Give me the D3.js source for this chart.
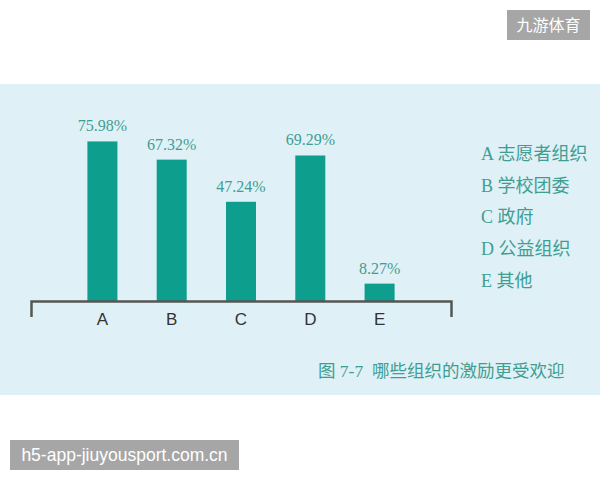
<!DOCTYPE html>
<html>
<head>
<meta charset="utf-8">
<script src="https://cdn.jsdelivr.net/npm/d3@7"></script>
<style>
  html, body { margin: 0; padding: 0; background: #ffffff; }
  svg { display: block; }
</style>
</head>
<body>
<svg id="chart" width="600" height="480"></svg>
<script>
// ---- data ----
const categories = ["A", "B", "C", "D", "E"];
const values = [75.98, 67.32, 47.24, 69.29, 8.27];
const valueLabels = ["75.98%", "67.32%", "47.24%", "69.29%", "8.27%"];
const legendLabels = ["A 志愿者组织", "B 学校团委", "C 政府", "D 公益组织", "E 其他"];
const caption = "图 7-7  哪些组织的激励更受欢迎";
const watermarkTop = "九游体育";
const watermarkBottom = "h5-app-jiuyousport.com.cn";

// ---- styles ----
const panelColor = "#dff0f7";
const barColor = "#0e9e8e";
const tealText = "#3f9e92";
const axisColor = "#555555";
const wmColor = "#a6a6a6";

const svg = d3.select("#chart");

// background panel
svg.append("rect")
  .attr("x", 0).attr("y", 84)
  .attr("width", 600).attr("height", 311)
  .attr("fill", panelColor);

// scales
const baseY = 301;
const x = d3.scaleBand()
  .domain(categories)
  .range([31, 451])
  .paddingInner(0.567)
  .paddingOuter(0.814);

const y = d3.scaleLinear()
  .domain([0, 100])
  .range([baseY, baseY - 210]);

// bars
svg.append("g").selectAll("rect")
  .data(values)
  .join("rect")
  .attr("x", (d, i) => x(categories[i]))
  .attr("y", d => y(d))
  .attr("width", x.bandwidth())
  .attr("height", d => y(0) - y(d))
  .attr("fill", barColor);

// value labels
svg.append("g").selectAll("text")
  .data(values)
  .join("text")
  .attr("x", (d, i) => x(categories[i]) + x.bandwidth() / 2)
  .attr("y", d => y(d) - 10)
  .attr("text-anchor", "middle")
  .attr("font-family", "'Liberation Serif', 'DejaVu Serif', serif")
  .attr("font-size", 16)
  .attr("fill", tealText)
  .text((d, i) => valueLabels[i]);

// axis
const axis = d3.axisBottom(x)
  .tickSizeInner(0)
  .tickSizeOuter(16)
  .tickPadding(12);

const gAxis = svg.append("g")
  .attr("transform", `translate(0,${baseY})`)
  .call(axis);
gAxis.select(".domain")
  .attr("stroke", axisColor)
  .attr("stroke-width", 2.5)
  .attr("fill", "none");
gAxis.selectAll(".tick text")
  .attr("font-family", "'Liberation Sans', Arial, sans-serif")
  .attr("font-size", 17)
  .attr("fill", "#333333");

// legend
svg.append("g").selectAll("text")
  .data(legendLabels)
  .join("text")
  .attr("x", 481)
  .attr("y", (d, i) => 160 + i * 31.7)
  .attr("font-family", "'Liberation Serif', 'Noto Sans CJK SC', serif")
  .attr("font-size", 18)
  .attr("fill", tealText)
  .text(d => d);

// caption
svg.append("text")
  .attr("x", 318)
  .attr("y", 377)
  .attr("font-family", "'Liberation Serif', 'Noto Sans CJK SC', serif")
  .attr("font-size", 17.5)
  .attr("fill", tealText)
  .attr("xml:space", "preserve")
  .style("white-space", "pre")
  .text(caption);

// watermarks
svg.append("rect")
  .attr("x", 507).attr("y", 10)
  .attr("width", 83).attr("height", 30)
  .attr("fill", wmColor);
svg.append("text")
  .attr("x", 548.5).attr("y", 31)
  .attr("text-anchor", "middle")
  .attr("font-family", "'Noto Sans CJK SC', sans-serif")
  .attr("font-size", 16)
  .attr("fill", "#ffffff")
  .text(watermarkTop);

svg.append("rect")
  .attr("x", 10).attr("y", 440)
  .attr("width", 229).attr("height", 30)
  .attr("fill", wmColor);
svg.append("text")
  .attr("x", 124.5).attr("y", 461)
  .attr("text-anchor", "middle")
  .attr("font-family", "'Liberation Sans', Arial, sans-serif")
  .attr("font-size", 17.5)
  .attr("fill", "#ffffff")
  .text(watermarkBottom);
</script>
</body>
</html>
